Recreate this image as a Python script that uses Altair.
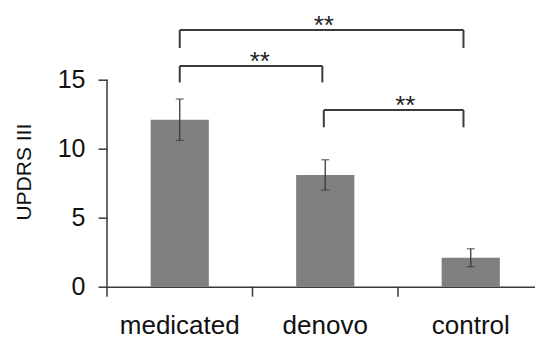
import altair as alt
import pandas as pd

# ---- data ----
groups = ["medicated", "denovo", "control"]
means = [12.1, 8.1, 2.1]
sems = [1.5, 1.1, 0.65]

y_ticks = [0, 5, 10, 15]

# significance brackets, x in band units (group i is centred at i + 0.5)
br_left = [0.5, 0.5, 1.49]
br_right = [2.45, 1.48, 2.45]
br_level = [18.6, 16.0, 12.8]
br_leg = [17.3, 14.8, 11.55]
br_text = ["**", "**", "**"]
star_pos = [1.49, 1.05, 2.05]

boundaries = [0, 1, 2, 3]

FONT = "Liberation Sans"
LINE = "#3a3a3a"

bars_df = pd.DataFrame({
    "group": groups,
    "mean": means,
    "lo": [m - s for m, s in zip(means, sems)],
    "hi": [m + s for m, s in zip(means, sems)],
})
br_df = pd.DataFrame({"left": br_left, "right": br_right, "level": br_level,
                      "text": br_text, "star": star_pos})
legs_df = pd.DataFrame({"x": br_left + br_right, "leg": br_leg + br_leg,
                        "level": br_level + br_level})
axis_df = pd.DataFrame({"x": boundaries,
                        "top": [max(y_ticks)] + [0] * (len(boundaries) - 1),
                        "bottom": [-0.72] * len(boundaries)})

yscale = alt.Scale(domain=[0, 20], nice=False, zero=False)
band = alt.Scale(domain=groups, range=[0, 436.5], paddingInner=0.6, paddingOuter=0.3)
qx = alt.Scale(domain=[0, 3], range=[0, 436.5], nice=False, zero=False)

yaxis = alt.Axis(values=y_ticks, domain=False, grid=False, tickSize=9, tickWidth=1.5,
                 tickColor=LINE, labelFontSize=25, labelPadding=13, labelColor="#111",
                 labelFont=FONT, title="UPDRS III", titleFont=FONT, titleFontSize=21,
                 titleFontWeight="normal", titleColor="#111", titleAngle=270,
                 titleX=-83, titleY=161, titleBaseline="middle", titleAlign="center")
xaxis = alt.Axis(title=None, ticks=False, tickSize=0, labelAngle=0, labelFontSize=26,
                 labelFont=FONT, labelColor="#111", labelPadding=47,
                 labelBaseline="alphabetic", domainColor=LINE, domainWidth=1.5)


def Y(field):
    return alt.Y(field, scale=yscale, axis=yaxis, title="UPDRS III")


def XB():
    return alt.X("group:N", scale=band, sort=groups, axis=xaxis, title=None)


base = alt.Chart(bars_df)
bars = base.mark_bar(color="#808080").encode(x=XB(), y=Y("mean:Q"))
err = base.mark_rule(color=LINE, strokeWidth=1.3).encode(x=XB(), y=Y("lo:Q"), y2="hi:Q")
cap_hi = base.mark_tick(color=LINE, size=8, thickness=1.3).encode(x=XB(), y=Y("hi:Q"))
cap_lo = base.mark_tick(color=LINE, size=8, thickness=1.3).encode(x=XB(), y=Y("lo:Q"))
bar_layer = alt.layer(bars, err, cap_hi, cap_lo)

brackets = alt.Chart(br_df).mark_rule(color=LINE, strokeWidth=2).encode(
    x=alt.X("left:Q", scale=qx, axis=None),
    x2="right:Q",
    y=Y("level:Q"),
)
legs = alt.Chart(legs_df).mark_rule(color=LINE, strokeWidth=2).encode(
    x=alt.X("x:Q", scale=qx, axis=None),
    y=Y("leg:Q"),
    y2="level:Q",
)
stars = alt.Chart(br_df).mark_text(font=FONT, fontSize=26, color="#222",
                                   baseline="alphabetic", dy=4).encode(
    x=alt.X("star:Q", scale=qx, axis=None),
    y=Y("level:Q"),
    text="text:N",
)
axis_lines = alt.Chart(axis_df).mark_rule(color=LINE, strokeWidth=1.5).encode(
    x=alt.X("x:Q", scale=qx, axis=None),
    y=Y("bottom:Q"),
    y2="top:Q",
)
annot_layer = alt.layer(brackets, legs, stars, axis_lines)

chart = (
    alt.layer(bar_layer, annot_layer)
    .resolve_scale(x="independent")
    .properties(width=428, height=276,
                padding={"left": 107, "top": 10.7, "right": 0, "bottom": 52.3},
                autosize=alt.AutoSizeParams(type="none"),
                background="white")
    .configure_view(stroke=None)
)

chart.save("out.html", embed_options={"renderer": "svg", "actions": False})
